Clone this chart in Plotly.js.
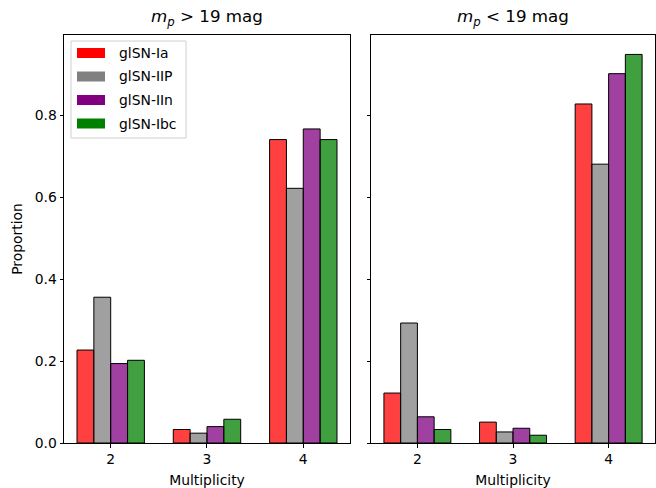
<!DOCTYPE html>
<html><head><meta charset="utf-8">
<script src="https://cdn.plot.ly/plotly-3.0.1.min.js"></script>
<style>body{margin:0;padding:0;background:#fff}#chart{width:656px;height:488px}</style>
</head><body><div id="chart"></div>
<script>
const multiplicity = [2, 3, 4];
const seriesNames = ["glSN-Ia", "glSN-IIP", "glSN-IIn", "glSN-Ibc"];
const seriesColors = ["red", "gray", "purple", "green"];
const barColors = ["rgba(255,0,0,0.75)", "rgba(128,128,128,0.75)", "rgba(128,0,128,0.75)", "rgba(0,128,0,0.75)"];
const yTickVals = [0, 0.2, 0.4, 0.6, 0.8];
const yTickText = ["0.0", "0.2", "0.4", "0.6", "0.8"];
// m_p > 19 mag
const faintIa  = [0.227, 0.033, 0.741];
const faintIIP = [0.356, 0.024, 0.622];
const faintIIn = [0.194, 0.040, 0.767];
const faintIbc = [0.202, 0.058, 0.741];
// m_p < 19 mag
const brightIa  = [0.122, 0.051, 0.828];
const brightIIP = [0.293, 0.027, 0.681];
const brightIIn = [0.064, 0.036, 0.902];
const brightIbc = [0.033, 0.019, 0.949];

const faint = [faintIa, faintIIP, faintIIn, faintIbc];
const bright = [brightIa, brightIIP, brightIIn, brightIbc];
const titles = ["<i>m<sub>p</sub></i> > 19 mag", "<i>m<sub>p</sub></i> < 19 mag"];

const font = {family: "DejaVu Sans", size: 13.9, color: "#000"};
const traces = [];
[faint, bright].forEach((panel, p) => {
  panel.forEach((vals, i) => {
    traces.push({
      type: "bar", x: multiplicity, y: vals, name: seriesNames[i],
      xaxis: p === 0 ? "x" : "x2", yaxis: p === 0 ? "y" : "y2",
      marker: {color: barColors[i], line: {color: "#000", width: 1}},
      showlegend: false, hoverinfo: "skip"
    });
  });
});

const allMax = Math.max(...faint.flat(), ...bright.flat());
const ax = (dom, anchor) => ({
  domain: dom, anchor: anchor, range: [1.515, 4.485], tickvals: multiplicity, ticktext: multiplicity.map(String),
  showline: true, mirror: true, linecolor: "#000", linewidth: 1, ticks: "outside", ticklen: 3.5,
  tickcolor: "#000", showgrid: false, zeroline: false, tickfont: font,
  title: {text: "Multiplicity", font: font, standoff: 9}
});
const ay = (lbl, anchor) => ({
  anchor: anchor, range: [0, allMax * 1.05], tickvals: yTickVals, ticktext: yTickText,
  showticklabels: lbl,
  showline: true, mirror: true, linecolor: "#000", linewidth: 1, ticks: "outside", ticklen: 3.5,
  tickcolor: "#000", showgrid: false, zeroline: false, tickfont: font
});

const layout = {
  width: 656, height: 488, margin: {l: 64, r: 1, t: 35, b: 45},
  paper_bgcolor: "#fff", plot_bgcolor: "#fff", font: font,
  barmode: "group", bargap: 0.3, bargroupgap: 0, showlegend: false,
  xaxis: ax([0, 0.4839], "y"), xaxis2: ax([0.5195, 1], "y2"),
  yaxis: Object.assign(ay(true, "x"), {title: {text: "Proportion", font: font, standoff: 8}}),
  yaxis2: ay(false, "x2"),
  annotations: [], shapes: []
};

titles.forEach((t, i) => {
  layout.annotations.push({text: t, xref: "paper", yref: "paper",
    x: i === 0 ? 0.4839 / 2 : (0.5195 + 1) / 2, xanchor: "center", y: 1, yshift: 4, yanchor: "bottom",
    showarrow: false, font: Object.assign({}, font, {size: 16.7})});
});

// legend box (pixel -> paper coords)
const pw = 591, ph = 408, L = 64, T = 35;
const px = (x) => (x - L) / pw, py = (y) => 1 - (y - T) / ph;
layout.shapes.push({type: "rect", xref: "paper", yref: "paper",
  x0: px(71), x1: px(186), y0: py(41), y1: py(138),
  line: {color: "#d0d0d0", width: 1}, fillcolor: "rgba(255,255,255,0.8)"});
seriesNames.forEach((n, i) => {
  const yc = 53 + i * 23.5;
  layout.shapes.push({type: "rect", xref: "paper", yref: "paper",
    x0: px(77), x1: px(105), y0: py(yc - 5), y1: py(yc + 5),
    line: {width: 0}, fillcolor: seriesColors[i]});
  layout.annotations.push({text: n, xref: "paper", yref: "paper", x: px(117), y: py(yc),
    xanchor: "left", yanchor: "middle", showarrow: false, font: font});
});

Plotly.newPlot("chart", traces, layout, {displayModeBar: false, staticPlot: true});
</script></body></html>
